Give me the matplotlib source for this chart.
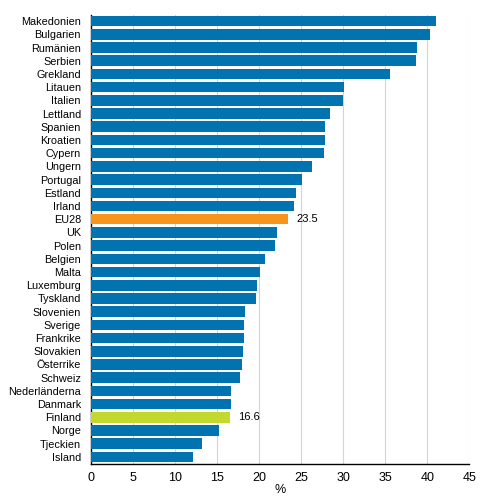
import numpy as np
import matplotlib.pyplot as plt

plt.rcParams['font.family'] = ['Liberation Sans', 'DejaVu Sans']

countries = ["Makedonien", "Bulgarien", "Rumänien", "Serbien", "Grekland", "Litauen",
             "Italien", "Lettland", "Spanien", "Kroatien", "Cypern", "Ungern", "Portugal",
             "Estland", "Irland", "EU28", "UK", "Polen", "Belgien", "Malta", "Luxemburg",
             "Tyskland", "Slovenien", "Sverige", "Frankrike", "Slovakien", "Österrike",
             "Schweiz", "Nederländerna", "Danmark", "Finland", "Norge", "Tjeckien", "Island"]
values = [41.0, 40.3, 38.8, 38.7, 35.6, 30.1, 30.0, 28.4, 27.8, 27.8, 27.7, 26.3, 25.1,
          24.4, 24.2, 23.5, 22.2, 21.9, 20.7, 20.1, 19.8, 19.7, 18.3, 18.2, 18.2, 18.1,
          18.0, 17.7, 16.7, 16.7, 16.6, 15.3, 13.2, 12.2]
highlight = {"EU28": "#F7941D", "Finland": "#C3D82E"}
base_color = "#0073B0"

fig = plt.figure(figsize=(4.91, 4.97), dpi=100)
ax = fig.add_axes([0.1847, 0.0674, 0.7711, 0.9034])

y = np.arange(len(countries))
colors = [highlight.get(c, base_color) for c in countries]
ax.barh(y, values, height=0.8, color=colors, zorder=3)

# value labels only for the highlighted bars
for yi, c, v in zip(y, countries, values):
    if c in highlight:
        ax.text(v + 0.95, yi, f"{v:.1f}", va="center", ha="left", fontsize=8)

ax.set_ylim(len(countries) - 0.5, -0.5)
ax.set_xlim(0, 45)
ax.set_xticks(np.arange(0, 46, 5))
ax.set_yticks(y)
ax.set_yticklabels(countries, fontsize=7.8)
ax.tick_params(axis="x", labelsize=9, length=0, pad=6)
ax.tick_params(axis="y", length=0, pad=7)
ax.set_xlabel("%", fontsize=9, labelpad=0)

ax.grid(axis="x", color="#d4d4d4", linewidth=0.8, zorder=0)
for s in ["top", "right"]:
    ax.spines[s].set_visible(False)
ax.spines["left"].set_linewidth(1)
ax.spines["bottom"].set_linewidth(1)

fig.savefig("out.png", dpi=100)
